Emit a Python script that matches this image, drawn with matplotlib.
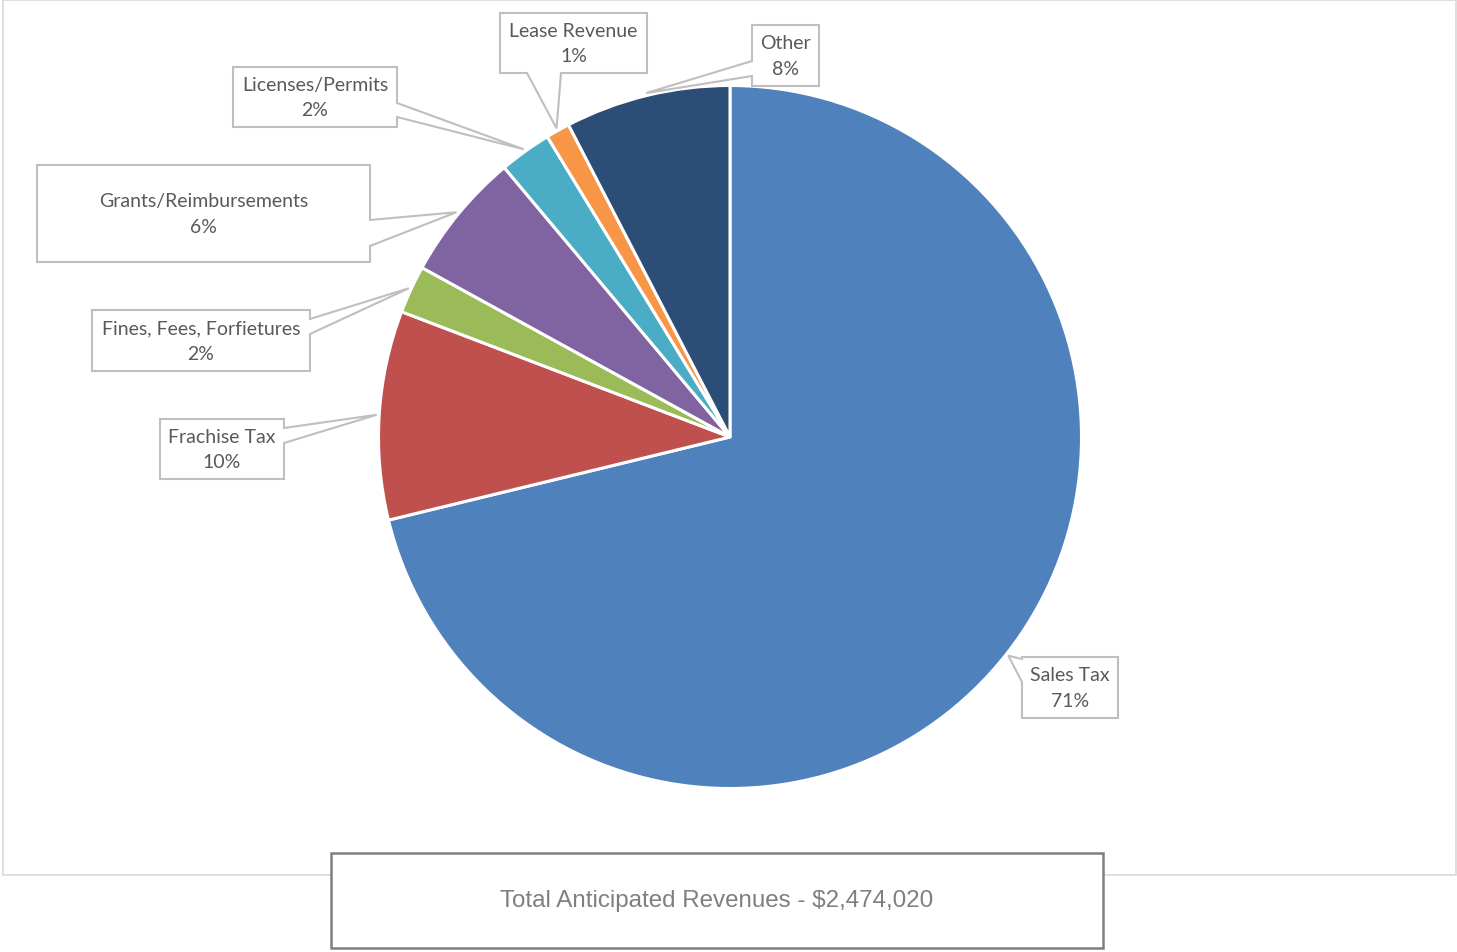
import numpy as np
import matplotlib.pyplot as plt
from matplotlib.patches import Polygon, Rectangle

# slice data (share of total, in percent)
categories = ["Sales Tax", "Frachise Tax", "Fines, Fees, Forfietures",
              "Grants/Reimbursements", "Licenses/Permits", "Lease Revenue", "Other"]
shares = [71.2, 9.6, 2.2, 5.9, 2.4, 1.1, 7.6]
colors = ["#4F81BD", "#C0504D", "#9BBB59", "#8064A2", "#4BACC6", "#F79646", "#2C4D75"]
total_label = "Total Anticipated Revenues - $2,474,020"

# callout boxes in image pixels: (left, top, right, bottom), pointer side, pointer base
callouts = [
    ((1022, 657, 1118, 718), "left", (659, 682)),
    ((160, 419, 284, 479), "right", (428, 443)),
    ((92, 310, 310, 371), "right", (319, 334)),
    ((37, 165, 370, 262), "right", (220, 246)),
    ((233, 67, 397, 127), "right", (103, 117)),
    ((500, 13, 647, 73), "bottom", (527, 561)),
    ((752, 25, 819, 86), "left", (61, 76)),
]

W, H = 1457, 952
cx, cy, r = 730, 437, 351.5


def fy(y):
    return H - y


fig = plt.figure(figsize=(W / 100, H / 100), dpi=100)
ax = fig.add_axes([0, 0, 1, 1])

wedges, _ = ax.pie(shares, colors=colors, startangle=90, counterclock=False,
                   center=(cx, fy(cy)), radius=r,
                   wedgeprops=dict(edgecolor="white", linewidth=2.2))
ax.set_xlim(0, W)
ax.set_ylim(0, H)
ax.axis("off")

# chart area border
ax.add_patch(Rectangle((3, fy(875)), 1453, 875, fill=False,
                       edgecolor="#D9D9D9", linewidth=1.2, zorder=0))

for w, lab, pct, (box, side, base) in zip(wedges, categories, shares, callouts):
    mid = np.deg2rad((w.theta1 + w.theta2) / 2)
    tip = (cx + 354 * np.cos(mid), fy(cy) + 354 * np.sin(mid))
    tip = (tip[0], H - tip[1])  # back to image coords
    x0, y0, x1, y1 = box
    b1, b2 = base
    tl, tr, br, bl = (x0, y0), (x1, y0), (x1, y1), (x0, y1)
    if side == "right":
        pts = [tl, tr, (x1, b1), tip, (x1, b2), br, bl]
    elif side == "left":
        pts = [tl, tr, br, bl, (x0, b2), tip, (x0, b1)]
    elif side == "bottom":
        pts = [tl, tr, br, (b2, y1), tip, (b1, y1), bl]
    else:
        pts = [tl, (b1, y0), tip, (b2, y0), tr, br, bl]
    pts = [(px, fy(py)) for px, py in pts]
    ax.add_patch(Polygon(pts, closed=True, facecolor="white", edgecolor="#BFBFBF",
                         linewidth=1.5, zorder=3))
    ax.text((x0 + x1) / 2, fy((y0 + y1) / 2 + 1), f"{lab}\n{pct:.0f}%",
            ha="center", va="center", fontsize=14, family="Lato",
            color="#595959", linespacing=1.62, zorder=4)

# total box at the bottom
ax.add_patch(Rectangle((331, fy(948)), 772, 95, facecolor="white",
                       edgecolor="#7F7F7F", linewidth=1.8, zorder=3))
ax.text(717, fy(901), total_label, ha="center", va="center", fontsize=17.4,
        family="Liberation Sans", color="#7F7F7F", zorder=4)

fig.savefig("out.png", dpi=100)
